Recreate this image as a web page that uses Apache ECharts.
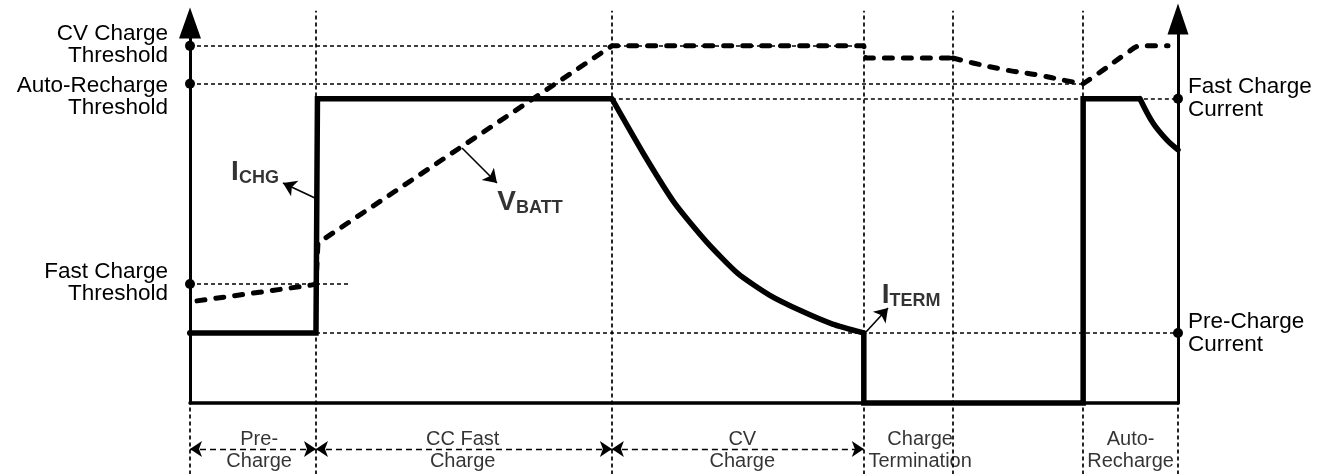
<!DOCTYPE html>
<html>
<head>
<meta charset="utf-8">
<script src="https://cdn.jsdelivr.net/npm/echarts@6.0.0/dist/echarts.min.js"></script>
<style>
  html, body { margin: 0; padding: 0; background: #fff; }
  #chart { width: 1325px; height: 474px; }
</style>
</head>
<body>
<div id="chart"></div>
<script>
// ---- data (time axis 0..100, level axis 0..~106) ----
const phaseBounds = [0, 12.75, 42.7, 68.2, 77.2, 90.4, 100];
const phaseNames = ['Pre-\nCharge', 'CC Fast\nCharge', 'CV\nCharge', 'Charge\nTermination', 'Auto-\nRecharge'];
const phaseLabelX = [7.0, 27.6, 55.9, 73.9, 95.2];
const phaseLabelY = -13.4;
const phaseArrowY = -12.9;
const phaseArrowSpans = [[0, 12.75], [12.75, 42.7], [42.7, 68.2]];

const leftLabels = ['CV Charge\nThreshold', 'Auto-Recharge\nThreshold', 'Fast Charge\nThreshold'];
const leftLevels = [100, 89.4, 33.3];
const rightLabels = ['Fast Charge\nCurrent', 'Pre-Charge\nCurrent'];
const rightLevels = [85.2, 19.6];

const hRefLevels = [100, 89.4, 85.2, 33.3, 19.6];
const hRefFrom = [0, 0, 42.7, 0, 12.75];
const hRefTo = [68.2, 90.4, 100, 16.2, 100];
const vRefX = [12.75, 42.7, 68.2, 77.2, 90.4];
const vRefTop = 109.8;
const vRefBottom = -20;

// charge current I_CHG: step parts and the two decaying curves
const ichgStepX = [0, 12.75, 12.9, 42.7];
const ichgStepY = [19.6, 19.6, 85.2, 85.2];
const ichgCvX = [42.7, 45.9, 49.09, 52.28, 55.47, 58.65, 61.84, 65.03, 68.2];
const ichgCvY = [85.2, 69.8, 55.8, 45.1, 36.2, 30.2, 25.8, 22.1, 19.6];
const ichgTermX = [68.2, 68.2, 90.4, 90.4, 96.15];
const ichgTermY = [19.6, 0, 0, 85.2, 85.2];
const ichgReX = [96.15, 97.47, 98.89, 100];
const ichgReY = [85.2, 78.4, 73.6, 70.9];

// battery voltage V_BATT
const vbattX = [0.71, 12.25, 12.75, 12.95, 42.7, 68.2, 68.4, 77.2];
const vbattY = [28.6, 33.0, 33.3, 44.8, 100, 100, 96.6, 96.6];
const vbattDropX = [77.2, 79.25, 82.69, 85.73, 88.77, 90.4];
const vbattDropY = [96.6, 95.2, 93.2, 91.9, 90.2, 89.4];
const vbattRiseX = [90.4, 92.41, 94.84, 96.15, 98.99];
const vbattRiseY = [89.4, 93.2, 98.0, 100, 100];

const annoMain = ['I', 'V', 'I'];
const annoSub = ['CHG', 'BATT', 'TERM'];
const annoX = [6.58, 34.41, 72.98];
const annoY = [64.7, 56.3, 30.2];
const annoArrowFrom = [[12.65, 57.4], [27.53, 71.4], [68.42, 19.9]];
const annoArrowTo = [[9.41, 61.6], [31.07, 61.6], [70.65, 26.6]];

// ---- build ----
const FONT = '"Liberation Sans", Arial, Helvetica, sans-serif';
const zip = (xs, ys) => xs.map((x, i) => [x, ys[i]]);

const refSegs = [];
hRefLevels.forEach((y, i) => refSegs.push({ coords: [[hRefFrom[i], y], [hRefTo[i], y]] }));
vRefX.forEach(x => refSegs.push({ coords: [[x, vRefBottom], [x, vRefTop]] }));
[phaseBounds[0], phaseBounds[phaseBounds.length - 1]].forEach(x => refSegs.push({ coords: [[x, vRefBottom], [x, 0]] }));

const ichgStyle = { color: '#000', width: 5.5, type: 'solid', join: 'miter' };
const vbattStyle = { color: '#000', width: 5, type: [8, 11], cap: 'round', join: 'round' };
const lineSeries = (data, style, z, smooth) => ({
  type: 'line', z, showSymbol: false, clip: false, smooth: smooth || false,
  lineStyle: style, data
});

const chart = echarts.init(document.getElementById('chart'), null, { renderer: 'canvas' });
const option = {
  animation: false,
  backgroundColor: '#ffffff',
  grid: { left: 190, right: 147, top: 23, bottom: 71 },
  xAxis: {
    type: 'value', min: 0, max: 100,
    axisLine: { show: true, lineStyle: { color: '#000', width: 3.5 } },
    axisTick: { show: false }, axisLabel: { show: false }, splitLine: { show: false }
  },
  yAxis: [
    {
      type: 'value', min: 0, max: 106.4, position: 'left',
      axisLine: { show: true, symbol: ['none', 'triangle'], symbolSize: [22, 31], lineStyle: { color: '#000', width: 3 } },
      axisTick: { show: false }, axisLabel: { show: false }, splitLine: { show: false }
    },
    {
      type: 'value', min: 0, max: 106.4, position: 'right',
      axisLine: { show: true, symbol: ['none', 'triangle'], symbolSize: [21, 31], symbolOffset: [0, 4], lineStyle: { color: '#000', width: 3 } },
      axisTick: { show: false }, axisLabel: { show: false }, splitLine: { show: false }
    }
  ],
  series: [
    {
      type: 'lines', coordinateSystem: 'cartesian2d', clip: false, z: 1,
      lineStyle: { color: '#000', width: 1.7, type: [4, 3], opacity: 1 },
      data: refSegs
    },
    {
      type: 'lines', coordinateSystem: 'cartesian2d', clip: false, z: 2,
      symbol: ['arrow', 'arrow'], symbolSize: 12,
      lineStyle: { color: '#000', width: 1.3, type: [6, 4], opacity: 1 },
      data: phaseArrowSpans.map(s => ({ coords: [[s[0], phaseArrowY], [s[1], phaseArrowY]] }))
    },
    {
      type: 'lines', coordinateSystem: 'cartesian2d', clip: false, z: 5,
      symbol: ['none', 'arrow'], symbolSize: 13,
      lineStyle: { color: '#000', width: 1.6, type: 'solid', opacity: 1 },
      data: annoArrowFrom.map((f, i) => ({ coords: [f, annoArrowTo[i]] }))
    },
    lineSeries(zip(vbattX, vbattY), vbattStyle, 3, false),
    lineSeries(zip(vbattDropX, vbattDropY), vbattStyle, 3, 0.35),
    lineSeries(zip(vbattRiseX, vbattRiseY), vbattStyle, 3, 0.35),
    lineSeries(zip(ichgStepX, ichgStepY), ichgStyle, 4, false),
    lineSeries(zip(ichgCvX, ichgCvY), Object.assign({}, ichgStyle, { cap: 'round', join: 'round' }), 4, 0.2),
    lineSeries(zip(ichgTermX, ichgTermY), ichgStyle, 4, false),
    lineSeries(zip(ichgReX, ichgReY), Object.assign({}, ichgStyle, { cap: 'round' }), 4, 0.35),
    {
      type: 'scatter', z: 6, clip: false, symbol: 'circle', itemStyle: { color: '#000', opacity: 1 },
      data: leftLevels.map((y, i) => ({
        value: [0, y], name: leftLabels[i], symbolSize: 10,
        label: {
          show: true, position: 'left', distance: 17, align: 'right',
          offset: i === 1 ? [0, 13] : [0, -1],
          formatter: p => p.name, color: '#000', fontFamily: FONT, fontSize: 22.5, lineHeight: 22
        }
      })).concat([{ value: [0, 19.6], symbolSize: 6, label: { show: false } }])
    },
    {
      type: 'scatter', z: 6, clip: false, symbol: 'circle', symbolSize: 10, itemStyle: { color: '#000', opacity: 1 },
      data: rightLevels.map((y, i) => ({ value: [100, y], name: rightLabels[i] })),
      label: {
        show: true, position: 'right', distance: 5, align: 'left',
        formatter: p => p.name, color: '#000', fontFamily: FONT, fontSize: 22.5, lineHeight: 23
      }
    },
    {
      type: 'scatter', z: 7, clip: false, symbolSize: 0, itemStyle: { color: 'transparent' },
      data: annoX.map((x, i) => ({ value: [x, annoY[i]], main: annoMain[i], sub: annoSub[i] })),
      label: {
        show: true, position: 'inside',
        formatter: p => '{m|' + p.data.main + '}{s|' + p.data.sub + '}',
        rich: {
          m: { fontFamily: FONT, fontWeight: 'bold', fontSize: 28, lineHeight: 30, color: '#000' },
          s: { fontFamily: FONT, fontWeight: 'bold', fontSize: 18, lineHeight: 15, verticalAlign: 'bottom', color: '#000' }
        }
      }
    },
    {
      type: 'scatter', z: 7, clip: false, symbolSize: 0, itemStyle: { color: 'transparent' },
      data: phaseLabelX.map((x, i) => ({ value: [x, phaseLabelY], name: phaseNames[i] })),
      label: {
        show: true, position: 'inside', align: 'center',
        formatter: p => p.name, color: '#000', fontFamily: FONT, fontSize: 20, lineHeight: 22
      }
    }
  ]
};
chart.setOption(option);
</script>
</body>
</html>
